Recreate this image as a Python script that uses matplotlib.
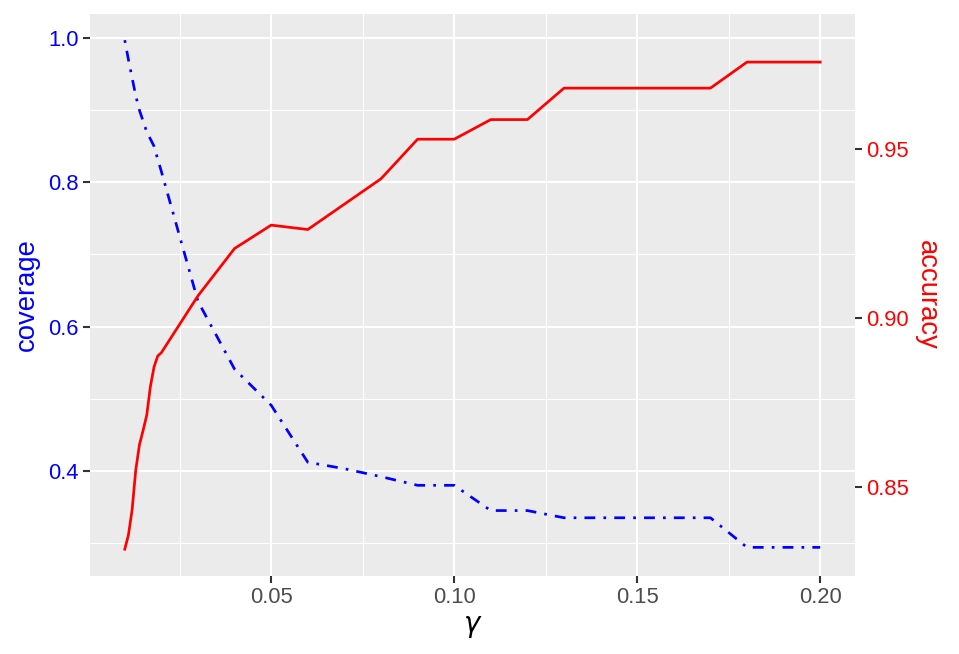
import matplotlib
matplotlib.use("Agg")
import matplotlib.pyplot as plt
from matplotlib.ticker import FixedLocator

gamma = [0.010, 0.011, 0.012, 0.013, 0.014, 0.015, 0.016, 0.017, 0.018, 0.019, 0.020,
         0.03, 0.04, 0.05, 0.06, 0.07, 0.08, 0.09, 0.10, 0.11, 0.12, 0.13, 0.14,
         0.15, 0.16, 0.17, 0.18, 0.19, 0.20]
coverage = [0.997, 0.970, 0.945, 0.920, 0.900, 0.885, 0.870, 0.860, 0.850, 0.832, 0.815,
            0.635, 0.541, 0.491, 0.412, 0.403, 0.392, 0.380, 0.380, 0.345, 0.345, 0.335, 0.335,
            0.335, 0.335, 0.335, 0.294, 0.294, 0.294]
accuracy = [0.8317, 0.8359, 0.8433, 0.8551, 0.8625, 0.8668, 0.8713, 0.8798, 0.8856, 0.8888, 0.8898,
            0.9066, 0.9206, 0.9275, 0.9262, 0.9337, 0.9412, 0.9529, 0.9529, 0.9587, 0.9587, 0.9680, 0.9680,
            0.9680, 0.9680, 0.9680, 0.9757, 0.9757, 0.9757]

x_ticks = [0.05, 0.10, 0.15, 0.20]
x_minor = [0.025, 0.075, 0.125, 0.175]
cov_ticks = [0.4, 0.6, 0.8, 1.0]
cov_minor = [0.3, 0.5, 0.7, 0.9]
acc_ticks = [0.85, 0.90, 0.95]

# secondary axis mapping (accuracy -> coverage units)
k = 4.6888
c95 = 0.84615
def acc_from_cov(c):
    return 0.95 + (c - c95) / k

plt.rcParams['font.family'] = ['Liberation Sans', 'DejaVu Sans']

fig = plt.figure(figsize=(9.59, 6.54), dpi=100)
ax = fig.add_axes([90/959, (654-576)/654, 765/959, 562/654])
ax.set_facecolor('#EBEBEB')
for s in ax.spines.values():
    s.set_visible(False)

ylim = (0.2543, 1.0333)
xlim = (0.0005, 0.2095)
ax.set_xlim(*xlim)
ax.set_ylim(*ylim)

ax.xaxis.set_major_locator(FixedLocator(x_ticks))
ax.xaxis.set_minor_locator(FixedLocator(x_minor))
ax.yaxis.set_major_locator(FixedLocator(cov_ticks))
ax.yaxis.set_minor_locator(FixedLocator(cov_minor))
ax.set_xticklabels([f"{v:.2f}" for v in x_ticks])
ax.set_yticklabels([f"{v:.1f}" for v in cov_ticks])
ax.grid(which='major', color='white', linewidth=1.5)
ax.grid(which='minor', color='white', linewidth=0.75)
ax.set_axisbelow(True)
ax.tick_params(which='minor', length=0)
ax.tick_params(which='major', length=5, width=1.5, color='#333333', labelsize=15.8, pad=3)
ax.tick_params(axis='x', labelcolor='#4D4D4D')
ax.tick_params(axis='y', labelcolor='blue')

ax.plot(gamma, coverage, color='blue', linewidth=1.95, linestyle=(0, (1, 3, 4, 3)),
        solid_capstyle='butt', dash_capstyle='butt', zorder=3)

ax2 = ax.twinx()
ax2.set_position(ax.get_position())
for s in ax2.spines.values():
    s.set_visible(False)
ax2.set_ylim(acc_from_cov(ylim[0]), acc_from_cov(ylim[1]))
ax2.yaxis.set_major_locator(FixedLocator(acc_ticks))
ax2.set_yticklabels([f"{v:.2f}" for v in acc_ticks])
ax2.tick_params(which='major', length=5, width=1.5, color='#333333', labelsize=15.8,
                labelcolor='red', pad=3)
ax2.plot(gamma, accuracy, color='red', linewidth=1.95, zorder=3)

ax.set_xlabel(r'$\gamma$', fontsize=19.8, color='black', labelpad=4)
ax.set_ylabel('coverage', fontsize=19.8, color='blue', labelpad=6)
ax2.set_ylabel('accuracy', fontsize=19.8, color='red', rotation=270, labelpad=22)

fig.savefig('out.png', dpi=100)
